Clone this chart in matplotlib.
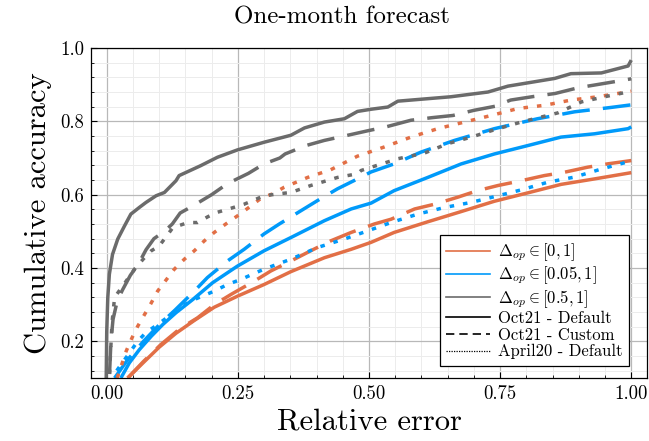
import matplotlib
matplotlib.use("Agg")
import matplotlib.pyplot as plt
from matplotlib.lines import Line2D
from matplotlib.ticker import MultipleLocator

plt.rcParams["font.family"] = "cmr10"
plt.rcParams["mathtext.fontset"] = "cm"
plt.rcParams["axes.formatter.use_mathtext"] = True

COLORS = {"all": "#e26f46", "mid": "#009afa", "high": "#6b6b6b"}

# Oct21 - Default
x_all_oct = [0.04, 0.069, 0.1, 0.132, 0.167, 0.205, 0.249, 0.3, 0.351, 0.415, 0.466, 0.504,
             0.548, 0.612, 0.676, 0.739, 0.803, 0.866, 0.93, 1.0]
y_all_oct = [0.1, 0.141, 0.184, 0.222, 0.257, 0.293, 0.323, 0.355, 0.39, 0.428, 0.451, 0.47,
             0.497, 0.526, 0.554, 0.582, 0.605, 0.628, 0.643, 0.66]
x_mid_oct = [0.027, 0.043, 0.062, 0.085, 0.107, 0.132, 0.164, 0.202, 0.249, 0.3, 0.351, 0.415,
             0.466, 0.504, 0.548, 0.612, 0.676, 0.739, 0.803, 0.866, 0.93, 0.994, 1.0]
y_mid_oct = [0.1, 0.141, 0.177, 0.214, 0.246, 0.278, 0.314, 0.36, 0.405, 0.447, 0.483, 0.529,
             0.561, 0.577, 0.611, 0.647, 0.684, 0.711, 0.734, 0.757, 0.766, 0.78, 0.785]
x_high_oct = [0.0, -0.001, 0.0, 0.002, 0.005, 0.011, 0.021, 0.034, 0.046, 0.062, 0.075, 0.094,
              0.11, 0.132, 0.138, 0.179, 0.211, 0.249, 0.3, 0.351, 0.377, 0.415, 0.453, 0.478,
              0.504, 0.536, 0.555, 0.656, 0.727, 0.765, 0.854, 0.885, 0.943, 0.994, 1.0]
y_high_oct = [0.0, 0.1, 0.227, 0.319, 0.383, 0.437, 0.479, 0.515, 0.547, 0.565, 0.579, 0.597,
              0.606, 0.638, 0.652, 0.679, 0.702, 0.722, 0.743, 0.762, 0.782, 0.798, 0.807, 0.827,
              0.833, 0.839, 0.855, 0.867, 0.88, 0.896, 0.917, 0.93, 0.932, 0.951, 0.967]

# Oct21 - Custom
x_all_cus = [0.04, 0.07, 0.103, 0.14, 0.173, 0.205, 0.237, 0.281, 0.313, 0.351, 0.389, 0.427,
             0.466, 0.51, 0.542, 0.587, 0.625, 0.669, 0.707, 0.746, 0.79, 0.834, 0.872, 0.917,
             0.955, 1.0]
y_all_cus = [0.1, 0.145, 0.191, 0.235, 0.264, 0.3, 0.328, 0.364, 0.392, 0.419, 0.447, 0.474,
             0.497, 0.52, 0.533, 0.561, 0.574, 0.593, 0.611, 0.625, 0.638, 0.652, 0.661, 0.675,
             0.684, 0.693]
x_mid_cus = [0.015, 0.04, 0.07, 0.1, 0.13, 0.167, 0.192, 0.23, 0.262, 0.3, 0.329, 0.37, 0.402,
             0.44, 0.478, 0.504, 0.548, 0.599, 0.663, 0.739, 0.821, 0.892, 0.962, 1.0]
y_mid_cus = [0.1, 0.15, 0.2, 0.245, 0.285, 0.337, 0.374, 0.419, 0.451, 0.493, 0.52, 0.556, 0.584,
             0.616, 0.643, 0.662, 0.684, 0.716, 0.748, 0.78, 0.807, 0.826, 0.838, 0.845]
x_high_cus = [0.003, 0.005, 0.008, 0.012, 0.02, 0.03, 0.045, 0.06, 0.075, 0.09, 0.11, 0.125,
              0.14, 0.165, 0.2, 0.23, 0.27, 0.3, 0.33, 0.34, 0.38, 0.415, 0.45, 0.5, 0.53, 0.58,
              0.62, 0.66, 0.7, 0.74, 0.77, 0.815, 0.855, 0.9, 0.93, 0.98, 1.0]
y_high_cus = [0.0, 0.1, 0.2, 0.26, 0.31, 0.34, 0.38, 0.41, 0.45, 0.48, 0.5, 0.52, 0.55, 0.57,
              0.6, 0.63, 0.658, 0.684, 0.7, 0.711, 0.734, 0.748, 0.759, 0.775, 0.784, 0.803,
              0.81, 0.816, 0.83, 0.841, 0.858, 0.868, 0.876, 0.892, 0.899, 0.911, 0.916]

# April20 - Default
x_all_apr = [0.02, 0.037, 0.048, 0.059, 0.072, 0.085, 0.097, 0.113, 0.129, 0.148, 0.167, 0.186,
             0.205, 0.227, 0.249, 0.269, 0.294, 0.316, 0.338, 0.383, 0.427, 0.478, 0.529, 0.58,
             0.631, 0.682, 0.733, 0.784, 0.836, 0.885, 0.936, 1.0]
y_all_apr = [0.1, 0.173, 0.209, 0.241, 0.273, 0.305, 0.337, 0.367, 0.397, 0.424, 0.447, 0.474,
             0.497, 0.52, 0.542, 0.563, 0.59, 0.602, 0.62, 0.647, 0.668, 0.705, 0.73, 0.757,
             0.78, 0.798, 0.816, 0.835, 0.844, 0.858, 0.867, 0.882]
x_mid_apr = [0.008, 0.011, 0.027, 0.043, 0.059, 0.074, 0.097, 0.119, 0.138, 0.16, 0.182, 0.205,
             0.23, 0.256, 0.3, 0.351, 0.402, 0.453, 0.497, 0.542, 0.593, 0.644, 0.695, 0.746,
             0.79, 0.841, 0.892, 0.943, 1.0]
y_mid_apr = [0.05, 0.104, 0.136, 0.168, 0.2, 0.223, 0.246, 0.269, 0.291, 0.31, 0.323, 0.337,
             0.355, 0.369, 0.397, 0.424, 0.456, 0.479, 0.501, 0.524, 0.547, 0.565, 0.579, 0.597,
             0.613, 0.634, 0.648, 0.67, 0.692]
x_high_apr = [0.003, 0.005, 0.01, 0.015, 0.03, 0.053, 0.07, 0.085, 0.1, 0.126, 0.155, 0.173,
              0.193, 0.211, 0.237, 0.262, 0.3, 0.326, 0.351, 0.389, 0.44, 0.478, 0.485, 0.555,
              0.605, 0.65, 0.695, 0.739, 0.79, 0.815, 0.86, 0.905, 0.949, 1.0]
y_high_apr = [0.0, 0.1, 0.25, 0.32, 0.35, 0.397, 0.425, 0.447, 0.46, 0.51, 0.524, 0.524, 0.54,
              0.552, 0.563, 0.574, 0.597, 0.602, 0.606, 0.625, 0.647, 0.657, 0.666, 0.698,
              0.713, 0.739, 0.757, 0.777, 0.798, 0.807, 0.823, 0.853, 0.867, 0.882]

LW = 2.5
DASH = (8.0, 3.8)
DOT = (1.3, 2.6)

fig = plt.figure(figsize=(6.49, 4.41), dpi=100)
ax = fig.add_axes([91 / 649, 1 - 378 / 441, 556 / 649, 330 / 441])

series = [
    (x_all_oct, y_all_oct, "all", None),
    (x_mid_oct, y_mid_oct, "mid", None),
    (x_high_oct, y_high_oct, "high", None),
    (x_all_cus, y_all_cus, "all", DASH),
    (x_mid_cus, y_mid_cus, "mid", DASH),
    (x_high_cus, y_high_cus, "high", DASH),
    (x_all_apr, y_all_apr, "all", DOT),
    (x_mid_apr, y_mid_apr, "mid", DOT),
    (x_high_apr, y_high_apr, "high", DOT),
]
for xs, ys, key, dashes in series:
    line, = ax.plot(xs, ys, color=COLORS[key], lw=LW, solid_capstyle="butt")
    if dashes is not None:
        line.set_dashes(dashes)
        line.set_dash_capstyle("butt")

ax.set_xlim(-0.03, 1.03)
ax.set_ylim(0.1, 1.0)
ax.xaxis.set_major_locator(MultipleLocator(0.25))
ax.xaxis.set_minor_locator(MultipleLocator(0.05))
ax.yaxis.set_major_locator(MultipleLocator(0.2))
ax.yaxis.set_minor_locator(MultipleLocator(0.04))
ax.set_xticks([0.0, 0.25, 0.5, 0.75, 1.0])
ax.set_xticklabels(["0.00", "0.25", "0.50", "0.75", "1.00"])
ax.set_yticks([0.2, 0.4, 0.6, 0.8, 1.0])
ax.set_yticklabels(["0.2", "0.4", "0.6", "0.8", "1.0"])
ax.grid(which="major", color="#b8b8b8", lw=0.9)
ax.grid(which="minor", color="#ececec", lw=0.7)
ax.set_axisbelow(True)
ax.tick_params(which="both", direction="in", top=False, right=False, labelsize=13.5)
ax.tick_params(which="major", length=4, pad=5)
ax.tick_params(which="minor", length=2.5)
for s in ax.spines.values():
    s.set_linewidth(0.9)

ax.set_xlabel("Relative error", fontsize=22, labelpad=4)
ax.set_ylabel("Cumulative accuracy", fontsize=22, labelpad=6)
fig.text(342 / 649, 1 - 23 / 441, "One-month forecast", fontsize=18, ha="center", va="baseline")

handles = [
    Line2D([], [], color=COLORS["all"], lw=1.2),
    Line2D([], [], color=COLORS["mid"], lw=1.2),
    Line2D([], [], color=COLORS["high"], lw=1.2),
    Line2D([], [], color="black", lw=1.2),
    Line2D([], [], color="black", lw=1.2, dashes=(5, 3)),
    Line2D([], [], color="black", lw=0.9, dashes=(1, 1)),
]
labels = [r"$\Delta_{op} \in [0,1]$", r"$\Delta_{op} \in [0.05,1]$", r"$\Delta_{op} \in [0.5,1]$",
          "Oct21 - Default", "Oct21 - Custom", "April20 - Default"]
leg = ax.legend(handles, labels, loc="lower right", bbox_to_anchor=(0.968, 0.036),
                borderaxespad=0, fontsize=12, frameon=True, fancybox=False, framealpha=1,
                edgecolor="black", handlelength=2.6, handletextpad=0.5, labelspacing=0.08,
                borderpad=0.4)
leg.get_frame().set_linewidth(0.9)

fig.savefig("out.png", dpi=100)
